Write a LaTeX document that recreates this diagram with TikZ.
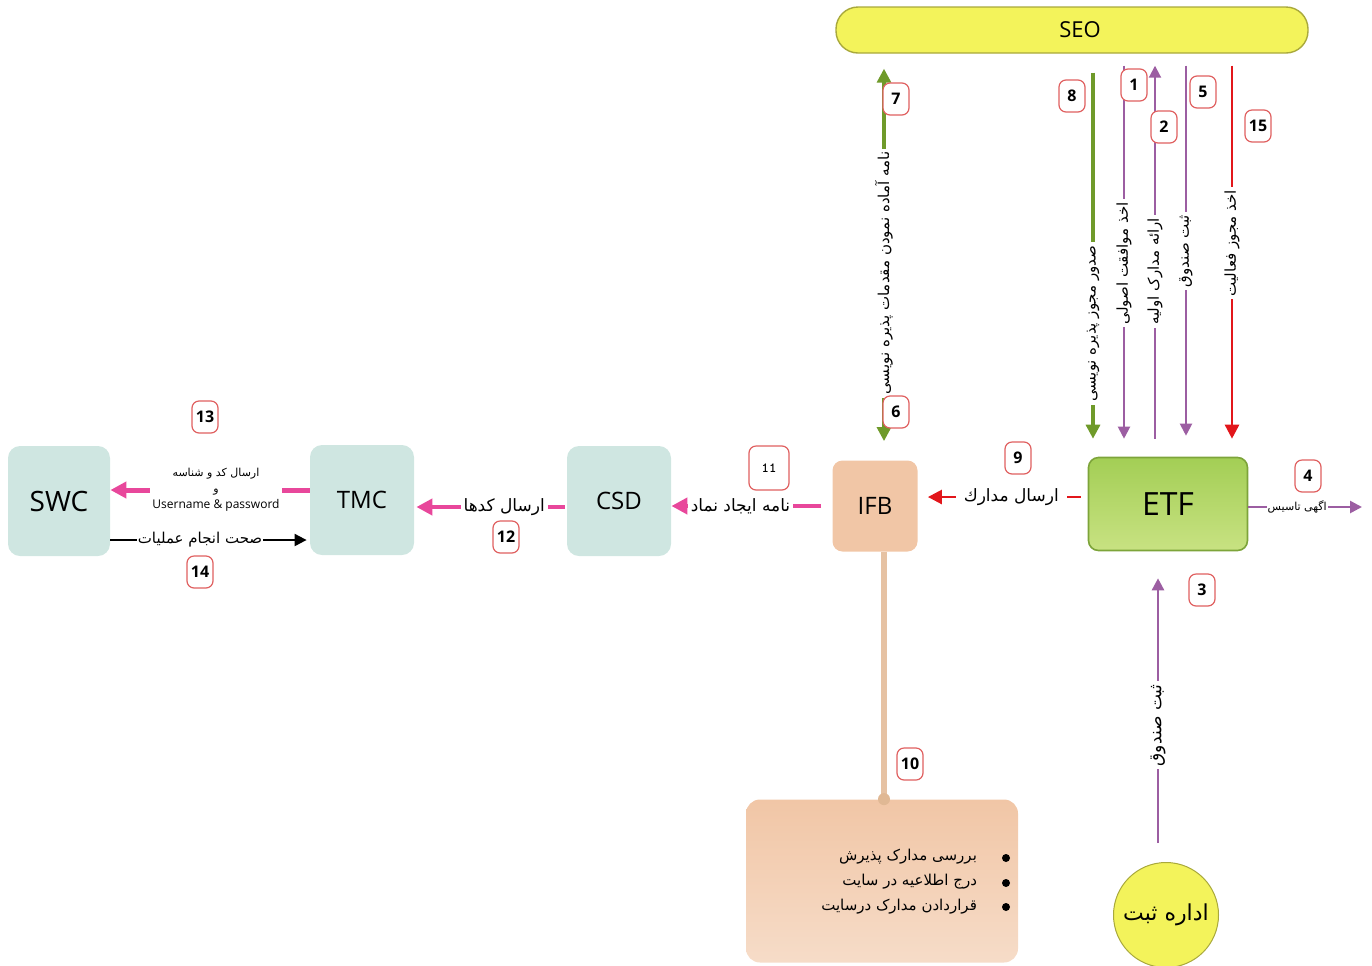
\documentclass[tikz,border=0pt]{standalone}
\usepackage{fontspec}
\setmainfont{Open Sans}
\newfontfamily\arabicfont[Script=Arabic]{DejaVu Sans}
\TeXXeTstate=1
\usepackage{tikz}
\usetikzlibrary{arrows.meta,calc,positioning}

\definecolor{seoyellow}{HTML}{F3F35B}
\definecolor{seoedge}{HTML}{A9A93C}
\definecolor{etfgreen}{HTML}{A3CE55}
\definecolor{etflight}{HTML}{C8E282}
\definecolor{etfedge}{HTML}{7DA43A}
\definecolor{ifbpeach}{HTML}{F1C6A6}
\definecolor{peachlight}{HTML}{F6DCC8}
\definecolor{tealbox}{HTML}{CFE6E1}
\definecolor{pinkarr}{HTML}{E8479B}
\definecolor{purparr}{HTML}{9C5EA2}
\definecolor{greenarr}{HTML}{6F9A2A}
\definecolor{redarr}{HTML}{E2161B}
\definecolor{numedge}{HTML}{E06060}
\definecolor{stemline}{HTML}{E6C2A3}

\newcommand{\fatext}[1]{{\arabicfont\beginR #1\endR}}

\tikzset{
  tip/.style={-{Triangle[length=#1,width=#1]}},
  numbox/.style={draw=numedge, line width=0.6pt, rounded corners=3.5pt, fill=white,
    minimum width=13pt, minimum height=16pt, inner sep=1pt, font=\footnotesize\bfseries},
  tealblock/.style={fill=tealbox, rounded corners=6pt, minimum width=52pt,
    minimum height=55pt, font=\fontsize{12}{14}\selectfont},
  lbl/.style={fill=white, inner sep=1.5pt, font=\fontsize{8.5}{10}\selectfont},
  vlbl/.style={lbl, rotate=90, font=\fontsize{7.5}{9}\selectfont},
  parr/.style={tip=6pt, line width=1pt, draw=purparr},
  garr/.style={tip=7pt, line width=1.6pt, draw=greenarr},
  rarr/.style={tip=7pt, line width=1.3pt, draw=redarr},
  pkarr/.style={tip=8pt, line width=2pt, draw=pinkarr},
}

\begin{document}
\begin{tikzpicture}[x=0.5pt,y=-0.5pt]
\useasboundingbox (0,0) rectangle (1372,965);

% main blocks
\node[fill=seoyellow, draw=seoedge, line width=0.7pt, rounded corners=11pt,
  minimum width=236pt, minimum height=23pt, font=\fontsize{11}{13}\selectfont] (seo) at (1072,30) {\hspace{8pt}SEO};
\node[top color=etfgreen, bottom color=etflight, draw=etfedge, line width=0.8pt, rounded corners=5pt,
  minimum width=79.5pt, minimum height=46.5pt, font=\fontsize{16}{18}\selectfont] (etf) at (1168,504) {ETF};
\node[fill=ifbpeach, rounded corners=5pt, minimum width=42.5pt, minimum height=45.5pt,
  font=\fontsize{12}{14}\selectfont] (ifb) at (875,506) {IFB};
\node[tealblock] (csd) at (619,501) {CSD};
\node[tealblock] (tmc) at (362,500) {TMC};
\node[tealblock, minimum width=51pt, font=\fontsize{14}{16}\selectfont] (swc) at (59,501) {SWC};
\node[top color=ifbpeach, bottom color=peachlight, rounded corners=7pt,
  minimum width=136pt, minimum height=81.5pt] (tasks) at (882,881) {};
\node[circle, fill=seoyellow, draw=seoedge, line width=0.5pt, minimum size=46pt,
  font=\fontsize{11}{13}\selectfont] (regoff) at (1166,915) {\fatext{اداره ثبت}};

% list inside the lower box
\node[anchor=east, align=right, font=\fontsize{7.5}{12.5}\selectfont] (tasklist) at (984,882)
  {\fatext{بررسی مدارک پذیرش}\\
   \fatext{درج اطلاعیه در سایت}\\
   \fatext{قراردادن مدارک درسایت}};
\foreach \y in {858,883,907}
  \fill (1006,\y) circle (2pt);

% x positions of the vertical arrows
\coordinate (x7) at (884,0);
\coordinate (x8) at (1093,0);
\coordinate (x1) at (1124,0);
\coordinate (x2) at (1155,0);
\coordinate (x5) at (1186,0);
\coordinate (x15) at (1232,0);
\coordinate (x3) at (1158,0);
\coordinate (ad) at (1362,507);

% SEO <-> ETF / IFB
\draw[garr, {Triangle[length=7pt,width=7pt]}-{Triangle[length=7pt,width=7pt]}, shorten <=7.5pt, shorten >=9.5pt]
  (seo.south -| x7) -- (ifb.north -| x7)
  node[vlbl, pos=0.54] {\fatext{نامه آماده نمودن مقدمات پذیره نویسی}};
\draw[garr, shorten <=9.5pt, shorten >=9pt] (seo.south -| x8) -- (etf.north -| x8)
  node[vlbl, pos=0.67] {\fatext{صدور مجوز پذیره نویسی}};
\draw[parr, shorten <=6pt, shorten >=9pt] (seo.south -| x1) -- (etf.north -| x1)
  node[vlbl, pos=0.52] {\fatext{اخذ موافقت اصولی}};
\draw[parr, shorten <=9pt, shorten >=6pt] (etf.north -| x2) -- (seo.south -| x2)
  node[vlbl, pos=0.46] {\fatext{ارائه مدارک اولیه}};
\draw[parr, shorten <=6pt, shorten >=10.5pt] (seo.south -| x5) -- (etf.north -| x5)
  node[vlbl, pos=0.49] {\fatext{ثبت صندوق}};
\draw[rarr, shorten <=6pt, shorten >=9pt] (seo.south -| x15) -- (etf.north -| x15)
  node[vlbl, pos=0.47] {\fatext{اخذ مجوز فعالیت}};

% registration office -> ETF
\draw[parr, line width=1.3pt, shorten <=9.5pt, shorten >=13.5pt] (regoff.north -| x3) -- (etf.south -| x3)
  node[vlbl, pos=0.44, font=\fontsize{8.5}{10}\selectfont] {\fatext{ثبت صندوق}};

% horizontal chain
\draw[parr, line width=1.3pt] ([yshift=-1.5pt]etf.east) -- (ad)
  node[lbl, pos=0.43, inner sep=0.5pt, font=\fontsize{5.5}{7}\selectfont] {\fatext{اگهی تاسیس}};
\draw[rarr, shorten <=3.5pt, shorten >=5pt] ([yshift=3.5pt]etf.west) -- ([yshift=3.5pt]etf.west -| ifb.east)
  node[lbl, pos=0.45, inner sep=4pt] {\fatext{ارسال مدارك}};
\draw[pkarr, shorten <=5.5pt] (ifb.west) -- (ifb.west -| csd.east)
  node[lbl, pos=0.57] {\fatext{نامه ایجاد نماد}};
\draw[pkarr, shorten <=1pt, shorten >=1pt] ([yshift=-3pt]csd.west) -- ([yshift=-3pt]csd.west -| tmc.east)
  node[lbl, pos=0.41] {\fatext{ارسال کدها}};
\draw[pkarr, line width=2.5pt] ([yshift=5pt]tmc.west) -- ([yshift=5pt]tmc.west -| swc.east)
  node[lbl, pos=0.47, align=center, inner sep=1pt, font=\fontsize{5.5}{8}\selectfont]
  {\fatext{ارسال کد و شناسه}\\ \fatext{و}\\ {\fontsize{6}{8}\selectfont Username \& password}};
\draw[tip=6pt, line width=1pt, shorten >=1.5pt] ([yshift=-19.5pt]swc.east) -- ([yshift=-19.5pt]swc.east -| tmc.west)
  node[lbl, pos=0.45, inner sep=0.5pt, font=\fontsize{7.5}{9}\selectfont] {\fatext{صحت انجام عملیات}};

% IFB to its task box
\draw[stemline, line width=3pt] (ifb.south -| x7) -- (tasks.north -| x7);
\fill[stemline!85!brown] (tasks.north -| x7) circle (3pt);

% step numbers
\node[numbox] (n1) at (1134,85) {1};
\node[numbox] (n2) at (1164,127) {2};
\node[numbox] (n3) at (1202,590) {3};
\node[numbox] (n4) at (1308,476) {4};
\node[numbox] (n5) at (1203,92) {5};
\node[numbox] (n6) at (896,412) {6};
\node[numbox] (n7) at (896,99) {7};
\node[numbox] (n8) at (1072,96) {8};
\node[numbox] (n9) at (1018,458) {9};
\node[numbox] (n10) at (910,764) {10};
\node[numbox, minimum width=20pt, minimum height=22pt, font=\ttfamily\bfseries\scriptsize] (n11) at (769,468) {11};
\node[numbox] (n12) at (506,537) {12};
\node[numbox] (n13) at (205,417) {13};
\node[numbox] (n14) at (200,572) {14};
\node[numbox] (n15) at (1258,126) {15};
\end{tikzpicture}
\end{document}
